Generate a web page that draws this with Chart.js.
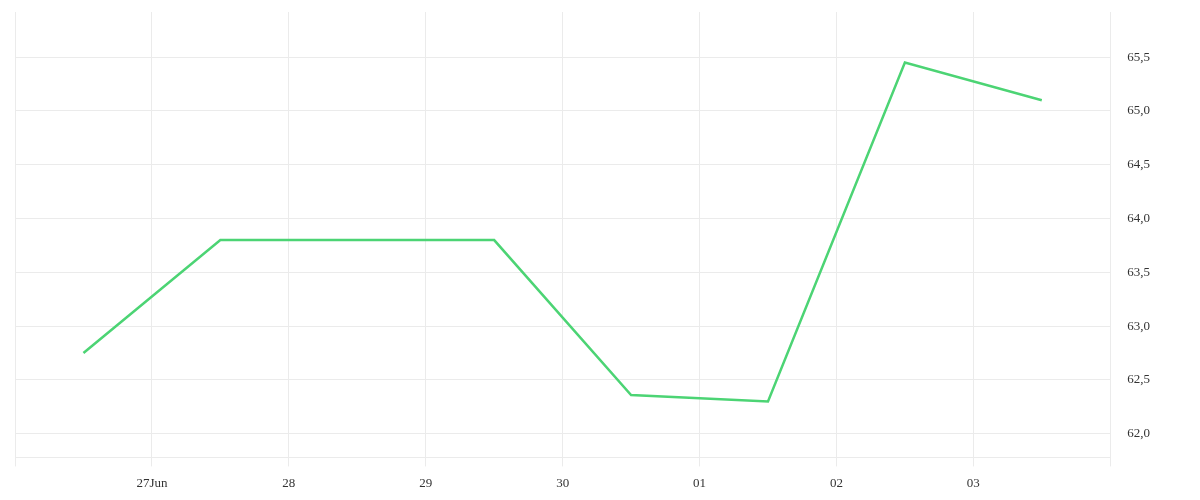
<!DOCTYPE html>
<html><head><meta charset="utf-8">
<script src="https://cdn.jsdelivr.net/npm/chart.js@4"></script>
<style>html,body{margin:0;padding:0;background:#fff;}#wrap{width:1200px;height:500px;}</style>
</head><body><div id="wrap"><canvas id="c"></canvas></div>
<script>
const tickLabels = ["", "27Jun", "28", "29", "30", "01", "02", "03", ""];
const xPositions = [0.5, 1.5, 2.5, 3.5, 4.5, 5.5, 6.5, 7.5];
const values = [62.75, 63.8, 63.8, 63.8, 62.36, 62.3, 65.45, 65.1];

const grid = '#ebebeb';
const font = {family: '"Liberation Serif", serif', size: 13};
new Chart(document.getElementById('c'), {
  type: 'line',
  data: {
    datasets: [{
      data: xPositions.map((x, i) => ({x: x, y: values[i]})),
      borderColor: '#4cd474',
      borderWidth: 2.5,
      pointRadius: 0,
      tension: 0,
      fill: false
    }]
  },
  options: {
    responsive: true,
    maintainAspectRatio: false,
    animation: false,
    layout: {padding: {left: 15, top: 12, right: 47, bottom: 0}},
    plugins: {legend: {display: false}, tooltip: {enabled: false}},
    scales: {
      x: {
        type: 'linear', min: 0, max: 8,
        grid: {color: grid, tickLength: 9, lineWidth: 1},
        border: {color: grid},
        ticks: {stepSize: 1, color: '#333', font: font, maxRotation: 0, padding: 9,
          callback: (v) => tickLabels[v] !== undefined ? tickLabels[v] : ''}
      },
      y: {
        position: 'right', min: 61.78, max: 65.92,
        grid: {color: grid, drawTicks: true, tickLength: 14, tickColor: 'rgba(0,0,0,0)'},
        border: {color: grid},
        ticks: {stepSize: 0.5, includeBounds: false, color: '#333', font: font, padding: 3,
          callback: (v) => v.toFixed(1).replace('.', ',')}
      }
    }
  }
});
</script></body></html>
